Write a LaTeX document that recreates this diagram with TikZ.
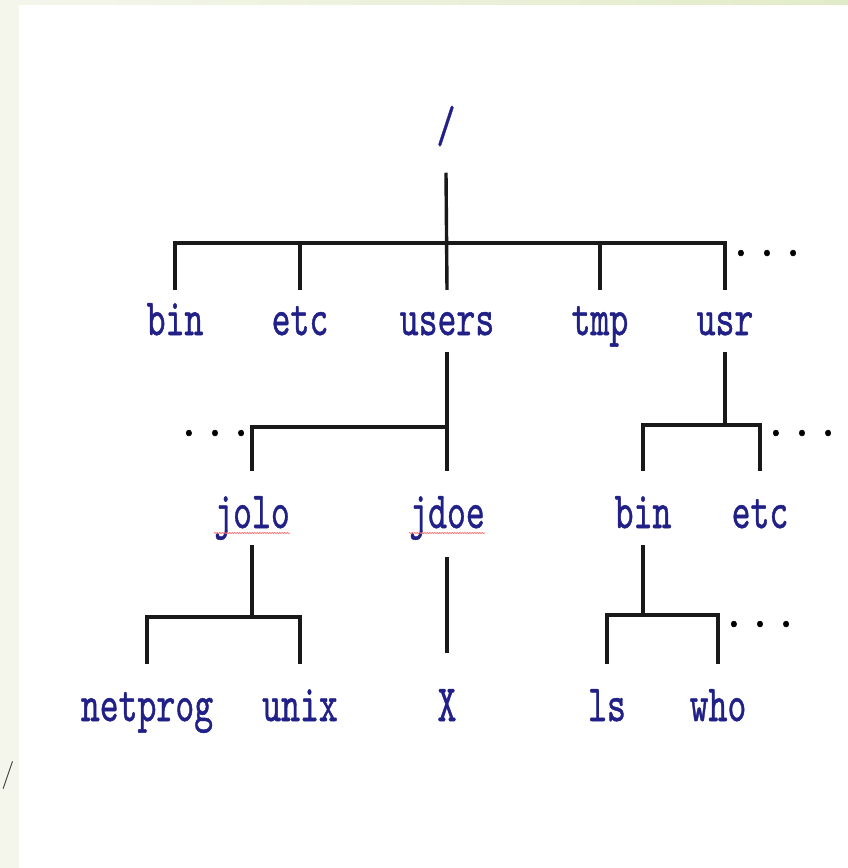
\documentclass[tikz,border=0pt]{standalone}
\usepackage{fontspec}
\usetikzlibrary{decorations.pathmorphing}
\newfontfamily\treefont{lmmono10-regular.otf}[FakeBold=1]
\definecolor{dirblue}{RGB}{32,32,135}
\definecolor{slidestrip}{RGB}{244,246,236}
\definecolor{slidegreen}{RGB}{226,235,200}

\begin{document}
\begin{tikzpicture}[x=1pt, y=-1pt,
  dir/.style={font=\treefont\fontsize{36}{40}\selectfont, text=dirblue, inner sep=0pt, yscale=1.45, anchor=base, text depth=11.7pt},
  toprow/.style={dir, text height=31pt},
  lowrow/.style={dir, text height=39.3pt},
  dots/.style={dir, font=\treefont\fontsize{44}{48}\selectfont, text=black, yscale=0.75, text height=0pt, text depth=0pt},
  drop/.style={line width=3.4pt, black!90},
  bar/.style={line width=4.6pt, black!90, line cap=rect},
  squiggle/.style={red!55, line width=0.7pt, decorate, decoration={snake, amplitude=0.6pt, segment length=2.5pt}}]
\useasboundingbox (0,0) rectangle (848,868);

% slide edge
\fill[slidestrip] (0,0) rectangle (19,868);
\shade[left color=slidestrip, right color=slidegreen] (0,0) rectangle (848,4);
\node[font=\sffamily\fontsize{28}{30}\selectfont, text=black!80, inner sep=0pt] (cutoff) at (8,775) {/};

% draw nodes
\node[dir, text depth=21pt] (root) at (446,142) {/};

\node[toprow] (bin)   at (175,335) {bin};
\node[toprow] (etc)   at (300,335) {etc};
\node[toprow] (users) at (447,335) {users};
\node[toprow] (tmp)   at (600,335) {tmp};
\node[toprow] (usr)   at (725,335) {usr};

\node[lowrow] (jolo)   at (252,528) {jolo};
\node[lowrow] (jdoe)   at (447,528) {jdoe};
\node[lowrow] (usrbin) at (643,528) {bin};
\node[lowrow] (usretc) at (760,528) {etc};

\node[lowrow] (netprog) at (147,721) {netprog};
\node[lowrow] (unix)    at (300,721) {unix};
\node[lowrow] (X)       at (447,721) {X};
\node[lowrow] (ls)      at (607,721) {ls};
\node[lowrow] (who)     at (718,721) {who};

% more entries
\node[dots] (rootdots)  at (767,256) {.\hspace{3pt}.\hspace{3pt}.};
\node[dots] (usersdots) at (215,436) {.\hspace{3pt}.\hspace{3pt}.};
\node[dots] (usrdots)   at (802,436) {.\hspace{3pt}.\hspace{3pt}.};
\node[dots] (bindots)   at (760,627) {.\hspace{3pt}.\hspace{3pt}.};

% spell check marks
\draw[squiggle] ([yshift=-5pt]jolo.base west) -- ([yshift=-5pt]jolo.base east);
\draw[squiggle] ([yshift=-5pt]jdoe.base west) -- ([yshift=-5pt]jdoe.base east);

% draw branches
\coordinate (rootbar)  at (447,243);
\coordinate (usersbar) at (447,427);
\coordinate (usrbar)   at (725,425);
\coordinate (jolobar)  at (252,617);
\coordinate (binbar)   at (643,615);

\draw[drop] (root.south) -- (users.north);
\draw[bar] (bin.north |- rootbar) -- (usr.north |- rootbar);
\foreach \d in {bin,etc,tmp,usr}
  \draw[drop] (\d.north |- rootbar) -- (\d.north);

\draw[drop] (users.south) -- (jdoe.north);
\draw[bar] (jolo.north |- usersbar) -- (usersbar);
\draw[drop] (jolo.north |- usersbar) -- (jolo.north);

\draw[drop] (usr.south) -- (usrbar);
\draw[bar] (usrbin.north |- usrbar) -- (usretc.north |- usrbar);
\foreach \d in {usrbin,usretc}
  \draw[drop] (\d.north |- usrbar) -- (\d.north);

\draw[drop] (jolo.south) -- (jolobar);
\draw[bar] (netprog.north |- jolobar) -- (unix.north |- jolobar);
\foreach \d in {netprog,unix}
  \draw[drop] (\d.north |- jolobar) -- (\d.north);

\draw[drop, shorten <=12pt, shorten >=11pt] (jdoe.south) -- (X.north);

\draw[drop] (usrbin.south) -- (binbar);
\draw[bar] (ls.north |- binbar) -- (who.north |- binbar);
\foreach \d in {ls,who}
  \draw[drop] (\d.north |- binbar) -- (\d.north);
\end{tikzpicture}
\end{document}
